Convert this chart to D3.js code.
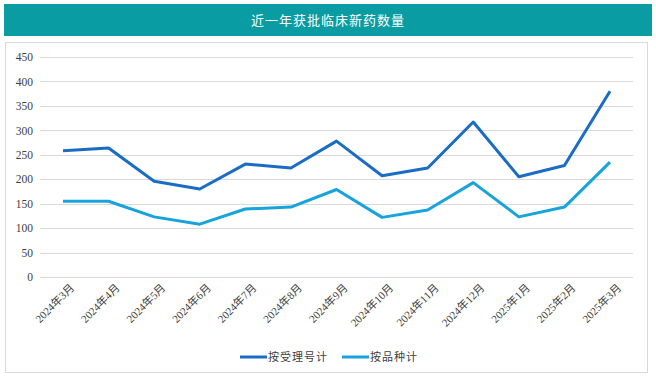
<!DOCTYPE html>
<html><head><meta charset="utf-8">
<script src="https://cdn.jsdelivr.net/npm/d3@7"></script>
<style>body{margin:0;background:#fff;}svg{display:block;}</style>
</head><body>
<script>
const categories = ["2024年3月","2024年4月","2024年5月","2024年6月","2024年7月","2024年8月","2024年9月","2024年10月","2024年11月","2024年12月","2025年1月","2025年2月","2025年3月"];
const seriesNames = ["按受理号计","按品种计"];
const byAcceptance = [258,264,196,180,231,223,278,207,223,317,205,228,380];
const byVariety = [155,155,123,108,139,143,179,122,137,193,123,143,235];
const yTicks = [0,50,100,150,200,250,300,350,400,450];
const title = "近一年获批临床新药数量";
const colors = ["#1a6cc4","#17a3db"];

const W=656,H=381;
const svg=d3.select("body").append("svg").attr("width",W).attr("height",H);
const serif = "'Liberation Serif','Noto Sans CJK SC',serif";

svg.append("rect").attr("x",4).attr("y",4).attr("width",648).attr("height",32).attr("fill","#0a9ca3");
svg.append("text").attr("x",328).attr("y",25).attr("text-anchor","middle").attr("fill","#fff")
  .attr("font-family","'Noto Sans CJK SC',sans-serif").attr("font-size",13).attr("letter-spacing",1).text(title);

svg.append("rect").attr("x",5.5).attr("y",42.5).attr("width",642).attr("height",330).attr("fill","none").attr("stroke","#d9d9d9");

const x=d3.scalePoint().domain(categories).range([63,610]);
const y=d3.scaleLinear().domain([0,450]).range([277,57]);
const gx0=40,gx1=633;

const g=svg.append("g");
g.selectAll("line.grid").data(yTicks).join("line").attr("class","grid")
  .attr("x1",gx0).attr("x2",gx1).attr("y1",d=>Math.round(y(d))+0.5).attr("y2",d=>Math.round(y(d))+0.5)
  .attr("stroke","#d9d9d9").attr("stroke-width",1);

const yAxis=d3.axisLeft(y).tickValues(yTicks).tickSize(0).tickPadding(0);
const ya=svg.append("g").attr("transform","translate(33,0)").call(yAxis);
ya.select(".domain").remove();
ya.selectAll("text").attr("font-family",serif).attr("font-size",11.5).attr("fill","#404040").attr("dy","0.32em");

const xAxis=d3.axisBottom(x).tickSize(0).tickPadding(0);
const xa=svg.append("g").attr("transform","translate(0,283)").call(xAxis);
xa.select(".domain").remove();
xa.selectAll("text").attr("font-family",serif).attr("font-size",11).attr("fill","#404040")
  .attr("text-anchor","end").attr("dy","0.7em").attr("transform","translate(6,0) rotate(-45)");

const line=d3.line().x((d,i)=>x(categories[i])).y(d=>y(d));
[byAcceptance,byVariety].forEach((s,k)=>{
  svg.append("path").datum(s).attr("d",line).attr("fill","none").attr("stroke",colors[k])
    .attr("stroke-width",3).attr("stroke-linejoin","round").attr("stroke-linecap","butt");
});

const leg=[{x:240,name:seriesNames[0],c:colors[0]},{x:342,name:seriesNames[1],c:colors[1]}];
leg.forEach(l=>{
  svg.append("line").attr("x1",l.x).attr("x2",l.x+27).attr("y1",357).attr("y2",357).attr("stroke",l.c).attr("stroke-width",3);
  svg.append("text").attr("x",l.x+28).attr("y",361).attr("font-family","'Noto Sans CJK SC',sans-serif")
    .attr("font-size",11).attr("fill","#404040").attr("letter-spacing",1).text(l.name);
});
</script>
</body></html>
